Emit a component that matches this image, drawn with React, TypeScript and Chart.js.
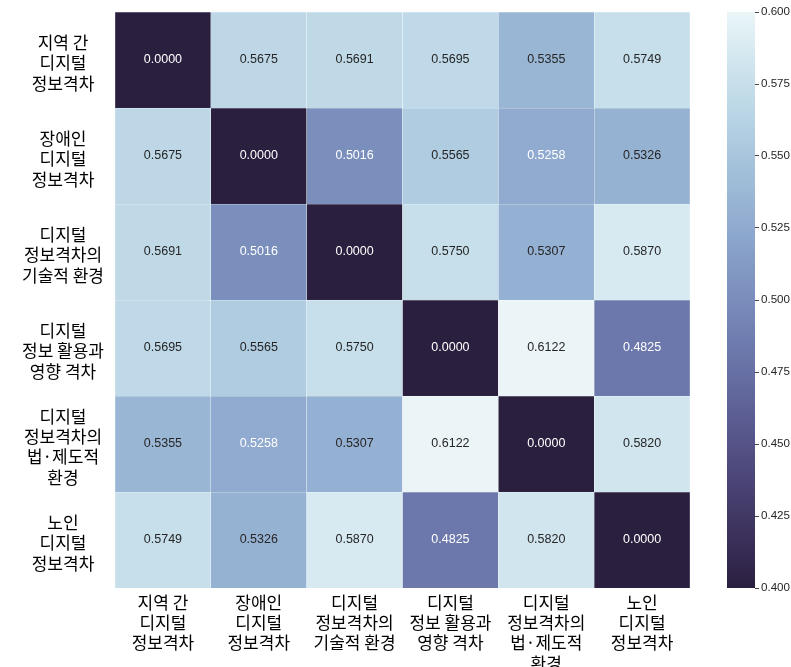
import React, { useEffect, useRef } from "react";
import { Chart, registerables } from "chart.js";

Chart.register(...registerables);

// ---- data ----
const rowLabels: string[][] = [
  ["지역 간", "디지털", "정보격차"],
  ["장애인", "디지털", "정보격차"],
  ["디지털", "정보격차의", "기술적 환경"],
  ["디지털", "정보 활용과", "영향 격차"],
  ["디지털", "정보격차의", "법·제도적", "환경"],
  ["노인", "디지털", "정보격차"],
];
const colLabels: string[][] = rowLabels;

const row1 = [0.0, 0.5675, 0.5691, 0.5695, 0.5355, 0.5749];
const row2 = [0.5675, 0.0, 0.5016, 0.5565, 0.5258, 0.5326];
const row3 = [0.5691, 0.5016, 0.0, 0.575, 0.5307, 0.587];
const row4 = [0.5695, 0.5565, 0.575, 0.0, 0.6122, 0.4825];
const row5 = [0.5355, 0.5258, 0.5307, 0.6122, 0.0, 0.582];
const row6 = [0.5749, 0.5326, 0.587, 0.4825, 0.582, 0.0];
const matrix = [row1, row2, row3, row4, row5, row6];

const vmin = 0.4;
const vmax = 0.6;
const colorbarStep = 0.025;

// ---- colormap (seaborn cubehelix start=.25 rot=-.25 light=.95 dark=.15, reversed) ----
function cubehelix(x: number): [number, number, number] {
  const start = 0.25, rot = -0.25, gamma = 1, hue = 0.8;
  const xg = Math.pow(x, gamma);
  const a = (hue * xg * (1 - xg)) / 2;
  const phi = 2 * Math.PI * (start / 3 + rot * x);
  const c = Math.cos(phi), s = Math.sin(phi);
  const clamp = (v: number) => Math.min(1, Math.max(0, v));
  return [
    clamp(xg + a * (-0.14861 * c + 1.78277 * s)),
    clamp(xg + a * (-0.29227 * c + -0.90649 * s)),
    clamp(xg + a * (1.97294 * c)),
  ];
}
function cmapRgb(v: number): [number, number, number] {
  const t = Math.min(1, Math.max(0, (v - vmin) / (vmax - vmin)));
  return cubehelix(0.15 + 0.8 * t);
}
function cmapCss(v: number): string {
  const [r, g, b] = cmapRgb(v);
  return `rgb(${Math.round(r * 255)},${Math.round(g * 255)},${Math.round(b * 255)})`;
}
function textColor(v: number): string {
  const lin = cmapRgb(v).map((c) => (c <= 0.03928 ? c / 12.92 : Math.pow((c + 0.055) / 1.055, 2.4)));
  const lum = 0.2126 * lin[0] + 0.7152 * lin[1] + 0.0722 * lin[2];
  return lum > 0.408 ? "#262626" : "#ffffff";
}

const KFONT = "'Noto Sans CJK KR', 'Noto Sans', sans-serif";
const NFONT = "'Liberation Sans', Arial, sans-serif";

const annotPlugin = {
  id: "annot",
  afterDatasetsDraw(chart: any) {
    const ctx = chart.ctx;
    ctx.save();
    ctx.font = `12.5px ${NFONT}`;
    ctx.textAlign = "center";
    ctx.textBaseline = "middle";
    chart.data.datasets.forEach((ds: any, i: number) => {
      const meta = chart.getDatasetMeta(i);
      meta.data.forEach((el: any, j: number) => {
        const v = ds.cellValues[j];
        const p = el.getCenterPoint();
        ctx.fillStyle = textColor(v);
        ctx.fillText(v.toFixed(4), p.x, p.y);
      });
    });
    ctx.restore();
  },
};

export default function App() {
  const heatRef = useRef<HTMLCanvasElement>(null);
  const barRef = useRef<HTMLCanvasElement>(null);

  useEffect(() => {
    const datasets = matrix
      .map((row, r) => ({
        label: rowLabels[r].join(" "),
        data: row.map(() => 1),
        cellValues: row,
        backgroundColor: row.map((v) => cmapCss(v)),
        borderColor: "rgba(255,255,255,0.3)",
        borderWidth: 0.5,
        barPercentage: 1,
        categoryPercentage: 1,
      }))
      .reverse();

    const heat = new Chart(heatRef.current!, {
      type: "bar",
      data: { labels: colLabels as any, datasets: datasets as any },
      plugins: [annotPlugin],
      options: {
        animation: false,
        responsive: false,
        layout: { padding: { left: 8, top: 12, right: 25, bottom: 0 } },
        plugins: { legend: { display: false }, tooltip: { enabled: false } },
        scales: {
          x: {
            type: "category",
            stacked: true,
            offset: true,
            grid: { display: false, drawTicks: false },
            border: { display: false },
            ticks: {
              padding: 4,
              color: "#000",
              maxRotation: 0,
              autoSkip: false,
              font: { family: KFONT, size: 17, lineHeight: 1.2 },
            },
            afterFit(scale: any) {
              scale.height = 79;
              scale.paddingLeft = 0;
              scale.paddingRight = 0;
            },
          },
          y: { type: "linear", stacked: true, min: 0, max: matrix.length, display: false },
          rows: {
            type: "category",
            position: "left",
            labels: rowLabels as any,
            offset: true,
            grid: { display: false, drawTicks: false },
            border: { display: false },
            ticks: {
              padding: 11,
              labelOffset: 3,
              crossAlign: "center",
              color: "#000",
              autoSkip: false,
              font: { family: KFONT, size: 17, lineHeight: 1.18 },
            },
            afterFit(scale: any) {
              scale.width = 107;
              scale.paddingTop = 0;
              scale.paddingBottom = 0;
            },
          },
        } as any,
      },
    });

    const bar = new Chart(barRef.current!, {
      type: "bar",
      data: {
        labels: [""],
        datasets: [
          {
            data: [[vmin, vmax]] as any,
            borderWidth: 0,
            barPercentage: 1,
            categoryPercentage: 1,
            backgroundColor: (c: any) => {
              const area = c.chart.chartArea;
              if (!area) return cmapCss((vmin + vmax) / 2);
              const g = c.chart.ctx.createLinearGradient(0, area.bottom, 0, area.top);
              const n = 40;
              for (let k = 0; k <= n; k++) {
                g.addColorStop(k / n, cmapCss(vmin + ((vmax - vmin) * k) / n));
              }
              return g;
            },
          },
        ],
      },
      options: {
        animation: false,
        responsive: false,
        layout: { padding: { left: 12, top: 12, right: 0, bottom: 79 } },
        plugins: { legend: { display: false }, tooltip: { enabled: false } },
        scales: {
          x: { display: false },
          y: {
            position: "right",
            min: vmin,
            max: vmax,
            grid: { drawOnChartArea: false, drawTicks: true, tickLength: 4, color: "#444" },
            border: { display: false },
            ticks: {
              stepSize: colorbarStep,
              padding: 2,
              color: "#262626",
              font: { family: NFONT, size: 11.6 },
              callback: (v: any) => Number(v).toFixed(3),
            },
            afterFit(scale: any) {
              scale.width = 36;
              scale.paddingTop = 0;
              scale.paddingBottom = 0;
            },
          },
        } as any,
      },
    });

    return () => {
      heat.destroy();
      bar.destroy();
    };
  }, []);

  return (
    <div style={{ position: "fixed", left: 0, top: 0, width: 791, height: 667, background: "#fff" }}>
      <canvas ref={heatRef} width={715} height={667} style={{ position: "absolute", left: 0, top: 0 }} />
      <canvas ref={barRef} width={76} height={667} style={{ position: "absolute", left: 715, top: 0 }} />
    </div>
  );
}
